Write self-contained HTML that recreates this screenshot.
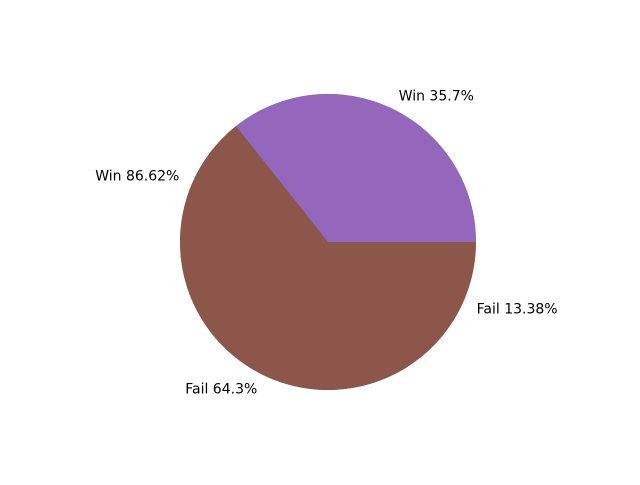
<!DOCTYPE html>
<html><head><meta charset="utf-8"><style>
body{margin:0;background:#fff;}
svg text{font-family:"DejaVu Sans","Liberation Sans",sans-serif;font-size:14px;fill:#000;}
</style></head><body>
<svg id="chart" width="640" height="480"></svg>
<script>
const labels1 = ["Win", "Fail"];
const values1 = [86.62, 13.38];
const colors1 = ["#1f77b4", "#ff7f0e"];
const labels2 = ["Win", "Fail"];
const values2 = [35.7, 64.3];
const colors2 = ["#9467bd", "#8c564b"];
const cx = 328, cy = 242, R = 148;
const svg = document.getElementById('chart');
const NS = "http://www.w3.org/2000/svg";
function pt(a, r){ return [cx + r*Math.cos(a*Math.PI/180), cy - r*Math.sin(a*Math.PI/180)]; }
function drawPie(labels, values, colors, idx){
  const tot = values.reduce((a,b)=>a+b,0);
  let start = 0;
  values.forEach((v,i)=>{
    const sweep = v/tot*360, end = start+sweep;
    const [x1,y1] = pt(start,R), [x2,y2] = pt(end,R);
    const p = document.createElementNS(NS,'path');
    p.setAttribute('d', `M${cx},${cy} L${x1},${y1} A${R},${R} 0 ${sweep>180?1:0} 0 ${x2},${y2} Z`);
    p.setAttribute('fill', colors[i]);
    
    
    svg.appendChild(p);
    const mid = start + sweep/2;
    const [lx,ly] = pt(mid, R*1.1);
    const t = document.createElementNS(NS,'text');
    t.setAttribute('x', lx); t.setAttribute('y', ly + 1);
    t.setAttribute('dominant-baseline', 'central');
    t.setAttribute('text-anchor', Math.cos(mid*Math.PI/180) >= 0 ? 'start' : 'end');
    t.textContent = labels[i] + ' ' + v + '%';
    
    
    svg.appendChild(t);
    start = end;
  });
}
drawPie(labels1, values1, colors1, 1);
drawPie(labels2, values2, colors2, 2);
</script>
</body></html>
